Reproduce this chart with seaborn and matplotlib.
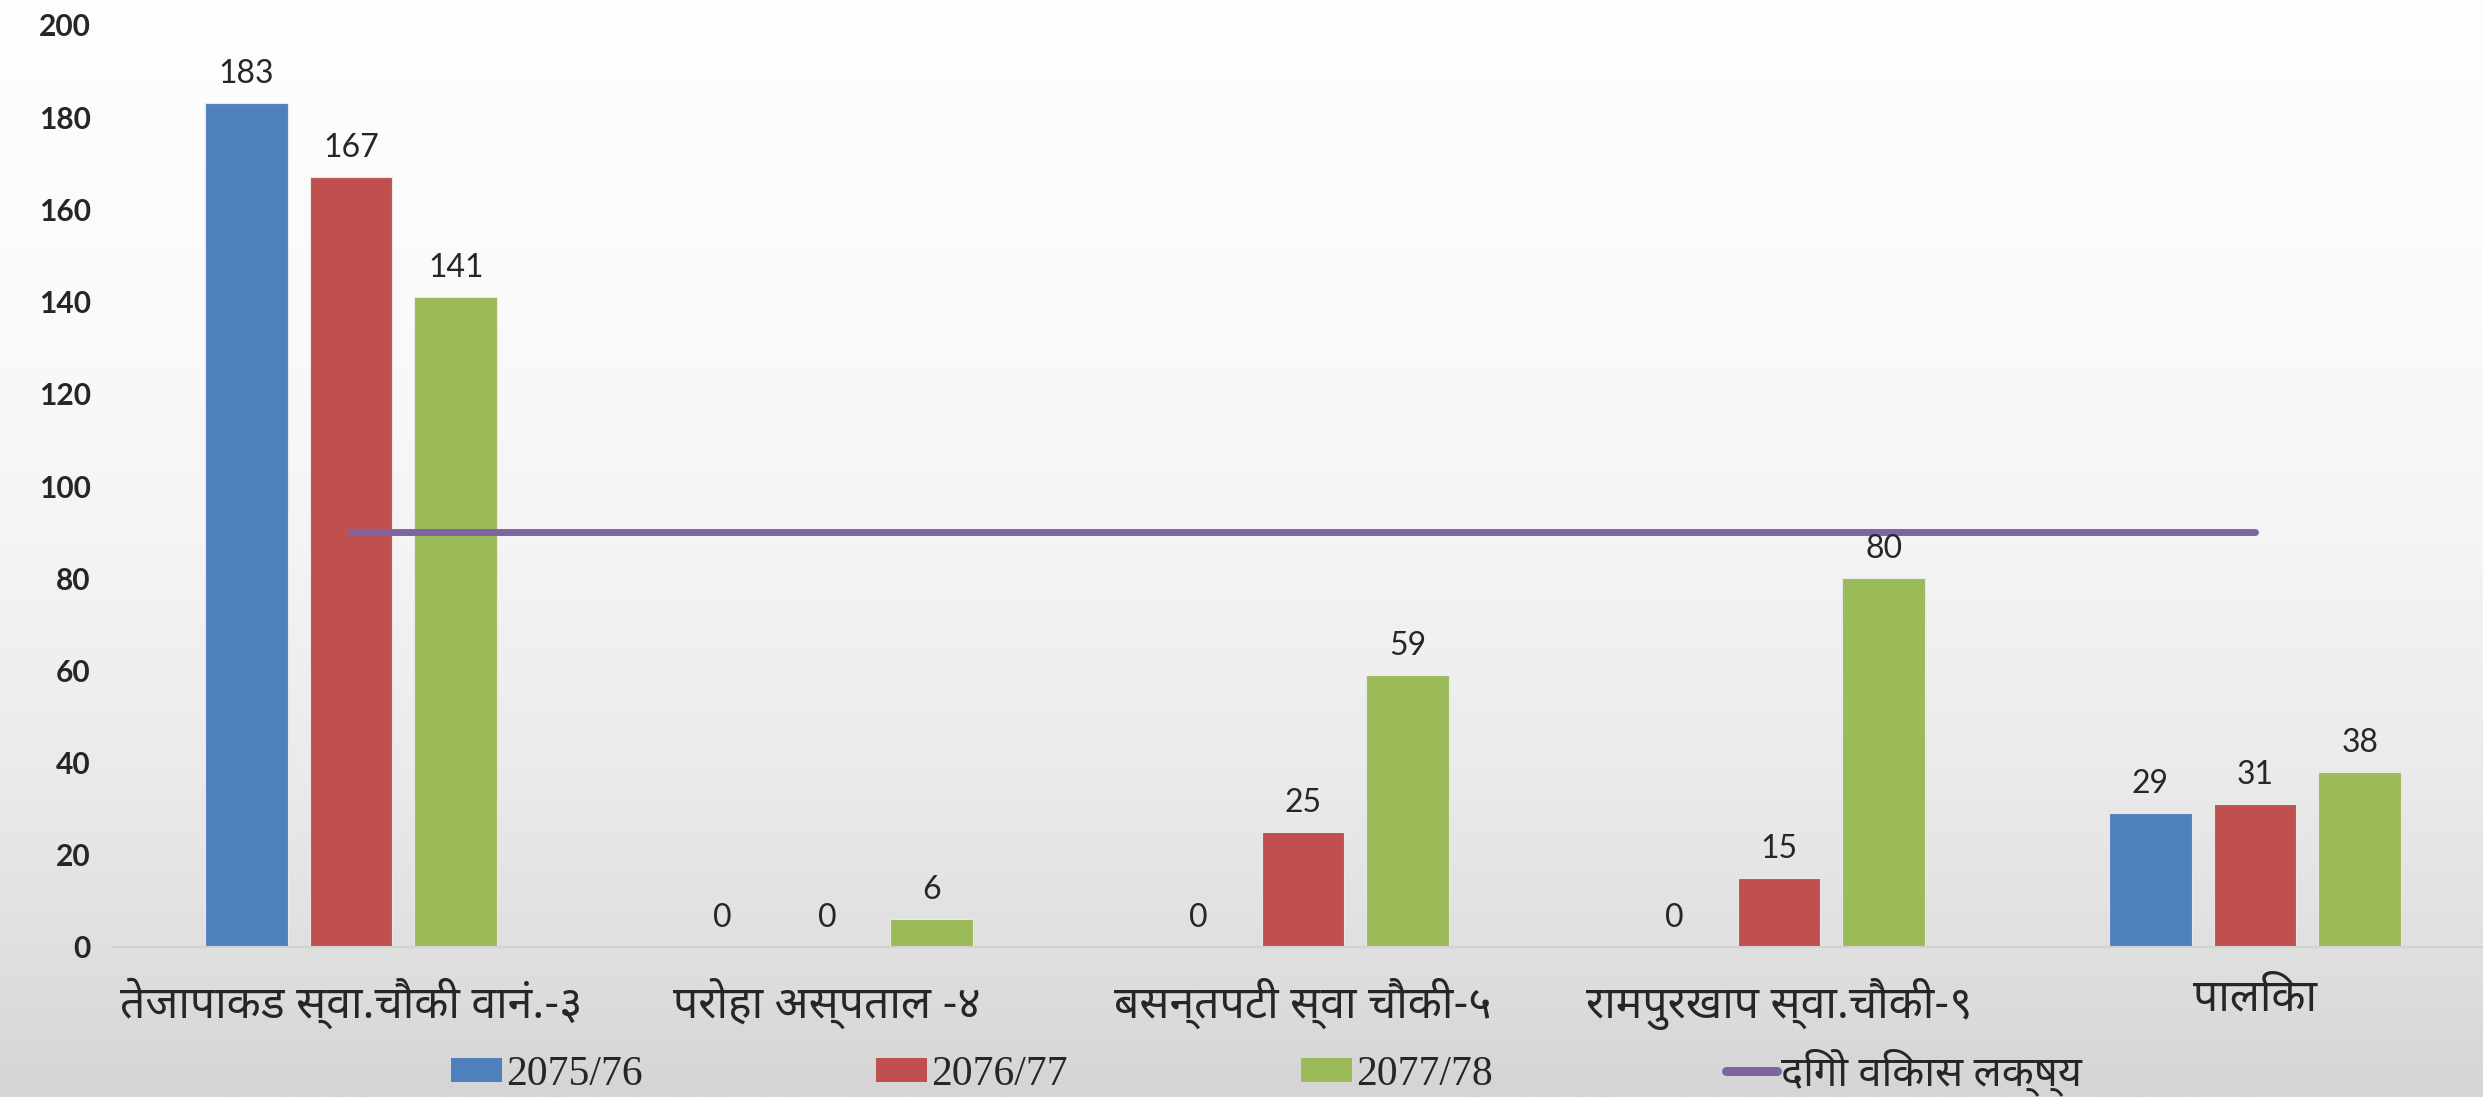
### Bar chart: health post counts by fiscal year with SDG target line.

import matplotlib
matplotlib.use('Agg')
import matplotlib.pyplot as plt
import seaborn as sns
import numpy as np
import pandas as pd
from matplotlib import font_manager
from matplotlib.patches import Patch
from matplotlib.lines import Line2D
from matplotlib.font_manager import FontProperties


categories = ['तेजापाकड स्वा.चौकी वानं.-३', 'परोहा अस्पताल -४', 'बसन्तपटी स्वा चौकी-५',
              'रामपुरखाप स्वा.चौकी-९', 'पालिका']
years = ['2075/76', '2076/77', '2077/78']
values_2075 = [183, 0, 0, 0, 29]
values_2076 = [167, 0, 25, 15, 31]
values_2077 = [141, 6, 59, 80, 38]
target_label = 'दिगो विकास लक्ष्य'
target_values = [90, 90, 90, 90, 90]
yticks = list(range(0, 201, 20))

colors = ['#4F81BD', '#C0504D', '#9BBB59']
line_color = '#8064A2'


def find_devanagari_font():
  """
  Look for an installed font that has Devanagari glyphs.
  """
  try:
    from fontTools.ttLib import TTFont
  except ImportError:
    return None
  preferred = ['Noto Sans Devanagari', 'Lohit Devanagari', 'Mukta', 'FreeSans',
               'Noto Serif Devanagari', 'Kalimati', 'Gargi']
  entries = sorted(font_manager.fontManager.ttflist,
                   key=lambda f: preferred.index(f.name) if f.name in preferred else 99)
  for f in entries:
    try:
      cmap = TTFont(f.fname, fontNumber=0, lazy=True).getBestCmap()
    except Exception:
      continue
    if cmap and 0x0915 in cmap and 0x093F in cmap:
      return f.name
  return None


sns.set_style('white')
deva = find_devanagari_font()
sans = ['Lato'] + ([deva] if deva else []) + ['DejaVu Sans']
serif = ['Liberation Serif'] + ([deva] if deva else []) + ['DejaVu Sans']
deva_fam = ([deva] if deva else []) + ['Lato', 'DejaVu Sans']
plt.rcParams['font.family'] = sans

df = pd.DataFrame({
  'category': categories * 3,
  'year': [y for y in years for _ in categories],
  'value': values_2075 + values_2076 + values_2077,
})

fig = plt.figure(figsize=(24.83, 10.97), dpi=100)

# background gradient
bg = fig.add_axes([0, 0, 1, 1], zorder=-10)
pos = np.linspace(0, 1, 400)
shade = np.interp(pos, [0, 0.3, 0.5, 0.7, 0.86, 1.0], [254, 250, 244, 235, 224, 213]) / 255
grad = np.repeat(shade[:, None], 2, axis=1)
bg.imshow(np.dstack([grad, grad, grad]), aspect='auto', extent=[0, 1, 0, 1])
bg.axis('off')

ax = fig.add_axes([113 / 2483, 1 - 947 / 1097, 2380 / 2483, 922 / 1097])
ax.patch.set_alpha(0)

g = sns.barplot(data=df, x='category', y='value', hue='year', palette=colors,
                width=0.66, gap=0.21, ax=ax, legend=False, saturation=1,
                edgecolor='#e8e8e8', linewidth=0.8)
for c in g.containers:
  g.bar_label(c, padding=10, fontsize=23, family=sans, zorder=6)

sns.lineplot(x=np.arange(len(categories)), y=target_values, color=line_color, lw=5,
             solid_capstyle='round', ax=ax, zorder=5)

ax.set_xlim(-0.5, len(categories) - 0.5)
ax.set_ylim(0, 200)
ax.set_yticks(yticks)
ax.set_yticklabels([str(t) for t in yticks], fontsize=21.5, fontweight='bold')
ax.set_xticks(range(len(categories)))
ax.set_xticklabels(categories, fontsize=32, family=deva_fam)
ax.tick_params(axis='y', length=0, pad=16)
ax.tick_params(axis='x', length=0, pad=22)
ax.set_xlabel('')
ax.set_ylabel('')
sns.despine(ax=ax, left=True)
ax.spines['bottom'].set_color('#d2d2d2')
ax.spines['bottom'].set_linewidth(1.5)

handles = [Patch(facecolor=c, edgecolor='none') for c in colors]
handles.append(Line2D([0], [0], color=line_color, lw=6.5, solid_capstyle='round'))
fig.legend(handles, years + [target_label], loc='center', bbox_to_anchor=(0.51, 0.023),
           ncol=4, frameon=False, prop=FontProperties(family=serif, size=30),
           handlelength=1.22, handleheight=0.53, handletextpad=0.1, columnspacing=5.6)

fig.savefig('out.png', dpi=100)
